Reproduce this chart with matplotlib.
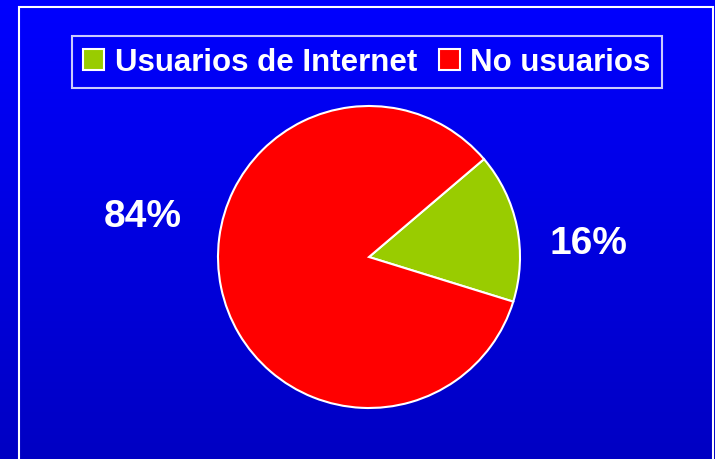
import numpy as np
import matplotlib
matplotlib.use("Agg")
import matplotlib.pyplot as plt
from matplotlib.patches import Patch, Rectangle

# share of population using the internet
labels = ["Usuarios de Internet", "No usuarios"]
values = [16, 84]
colors = ["#99CC00", "#FF0000"]

W, H = 715, 460
fig = plt.figure(figsize=(W / 100, H / 100), dpi=100)
plt.rcParams["font.family"] = ["Liberation Sans", "DejaVu Sans"]

# background: vertical blue gradient
bg = fig.add_axes([0, 0, 1, 1], zorder=0)
grad = np.linspace(0, 1, 256).reshape(-1, 1)
rgb = np.zeros((256, 1, 3))
rgb[:, 0, 2] = (255 - 60 * grad[:, 0]) / 255
bg.imshow(rgb, aspect="auto", extent=[0, 1, 0, 1])
bg.set_xlim(0, 1)
bg.set_ylim(0, 1)
bg.axis("off")

# white outer frame
fig.patches.append(Rectangle((19 / W, -0.05), (713 - 19) / W, 1.05 - 8 / H,
                             transform=fig.transFigure, fill=False,
                             edgecolor="white", lw=1.5, zorder=1))

# pie
cx, cy, r = 369, 258, 151
ax = fig.add_axes([(cx - r) / W, (H - cy - r) / H, 2 * r / W, 2 * r / H], zorder=2)
ax.pie(values, colors=colors, startangle=40.4, counterclock=False,
       wedgeprops=dict(edgecolor="white", linewidth=1.5))
ax.set_xlim(-1, 1)
ax.set_ylim(-1, 1)
ax.set_aspect("auto")

label_pos = [(1.45, 0.09), (-1.50, 0.27)]
for v, (x, y) in zip(values, label_pos):
    ax.text(x, y, f"{v}%", color="white", fontsize=28, fontweight="bold",
            ha="center", va="center", clip_on=False)

# legend
handles = [Patch(facecolor=c, edgecolor="white", linewidth=1.5) for c in colors]
leg = fig.legend(handles, labels, loc="center", bbox_to_anchor=(367 / W, 1 - 63 / H),
                 ncol=2, frameon=True, fancybox=False, edgecolor="white",
                 facecolor="none", prop=dict(size=22.5, weight="bold"),
                 labelcolor="white", handlelength=0.66, handleheight=0.66,
                 handletextpad=0.35, columnspacing=0.7, borderpad=0.35,
                 borderaxespad=0)
leg.get_frame().set_linewidth(1.5)
leg.set_zorder(3)

fig.savefig("out.png", dpi=100)
